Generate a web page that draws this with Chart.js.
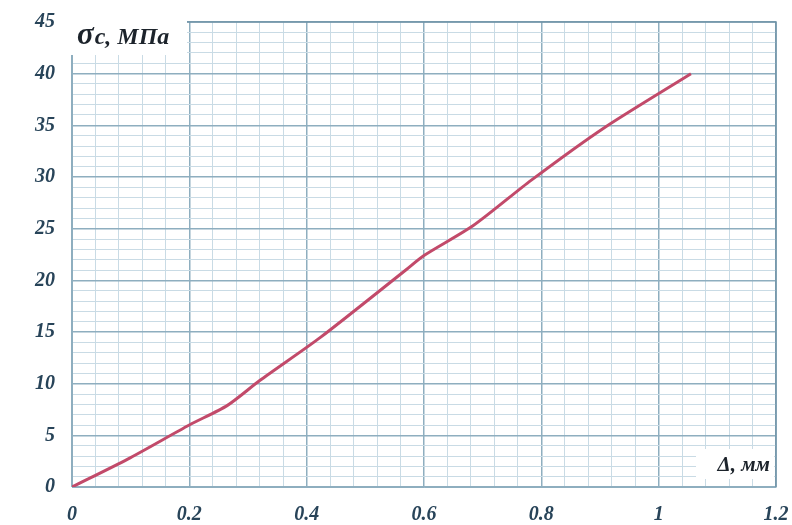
<!DOCTYPE html>
<html>
<head>
<meta charset="utf-8">
<script src="https://cdn.jsdelivr.net/npm/chart.js@4.4.1/dist/chart.umd.min.js"></script>
<style>
  html, body { margin: 0; padding: 0; background: #fff; }
  #wrap { width: 792px; height: 525px; }
</style>
</head>
<body>
<div id="wrap"><canvas id="stressChart"></canvas></div>
<script>
// deformation, mm
var deltaMm = [0, 0.095, 0.2, 0.265, 0.32, 0.424, 0.569, 0.6, 0.684, 0.783, 0.908, 1.055];
// stress, MPa
var sigmaMpa = [0, 2.7, 6.0, 7.9, 10.3, 14.5, 21.0, 22.4, 25.3, 29.7, 34.8, 40];
var xTicks = [0, 0.2, 0.4, 0.6, 0.8, 1, 1.2];
var yTicks = [0, 5, 10, 15, 20, 25, 30, 35, 40, 45];

var points = deltaMm.map(function (d, i) { return { x: d, y: sigmaMpa[i] }; });

var tickFont = { family: 'Liberation Serif', style: 'italic', weight: 'bold', size: 20 };
var tickColor = '#284459';
var majorGrid = '#8eaebf';
var minorGrid = '#c9dbe5';

function near(v, list) {
  for (var i = 0; i < list.length; i++) {
    if (Math.abs(v - list[i]) < 1e-6) return true;
  }
  return false;
}

var titles = {
  id: 'titles',
  afterDraw: function (chart) {
    var ctx = chart.ctx;
    var area = chart.chartArea;
    ctx.save();
    // y title box
    ctx.fillStyle = '#fff';
    ctx.fillRect(area.left - 1, 0, 116, 55);
    ctx.fillStyle = '#1c232b';
    ctx.textBaseline = 'alphabetic';
    ctx.textAlign = 'left';
    ctx.font = 'italic bold 31px "Liberation Serif"';
    ctx.fillText('σ', area.left + 5, 44);
    var w = ctx.measureText('σ').width;
    ctx.font = 'italic bold 24px "Liberation Serif"';
    ctx.fillText('c, МПа', area.left + 5 + w + 1, 44);
    // x title box
    ctx.fillStyle = '#fff';
    ctx.fillRect(area.right - 80, area.bottom - 38, 78, 30);
    ctx.fillStyle = '#1c232b';
    ctx.textAlign = 'right';
    ctx.font = 'italic bold 21px "Liberation Serif"';
    ctx.fillText('Δ, мм', area.right - 6, area.bottom - 16);
    // outer frame on top/right
    ctx.strokeStyle = '#6f93a6';
    ctx.lineWidth = 1.5;
    ctx.beginPath();
    ctx.moveTo(area.left + 115, area.top);
    ctx.lineTo(area.right, area.top);
    ctx.lineTo(area.right, area.bottom);
    ctx.stroke();
    ctx.restore();
  }
};

new Chart(document.getElementById('stressChart'), {
  type: 'scatter',
  data: {
    datasets: [{
      data: points,
      showLine: true,
      borderColor: '#c24a6a',
      borderWidth: 3,
      pointRadius: 0,
      tension: 0.25
    }]
  },
  options: {
    responsive: true,
    maintainAspectRatio: false,
    animation: false,
    layout: { padding: { left: 0, right: 16, top: 22, bottom: 0 } },
    plugins: { legend: { display: false }, tooltip: { enabled: false } },
    scales: {
      x: {
        type: 'linear',
        min: 0,
        max: 1.2,
        afterBuildTicks: function (axis) {
          var t = [];
          for (var i = 0; i <= 30; i++) t.push({ value: Math.round(i * 0.04 * 1000) / 1000 });
          axis.ticks = t;
        },
        afterFit: function (axis) {
          axis.height = 38;
          axis.paddingLeft = 0;
          axis.paddingRight = 0;
        },
        grid: {
          drawTicks: false,
          color: function (c) { return near(c.tick.value, xTicks) ? majorGrid : minorGrid; },
          lineWidth: function (c) { return near(c.tick.value, xTicks) ? 1.5 : 1; }
        },
        border: { color: majorGrid },
        ticks: {
          autoSkip: false,
          maxRotation: 0,
          padding: 16,
          color: tickColor,
          font: tickFont,
          callback: function (v) { return near(v, xTicks) ? String(Math.round(v * 10) / 10) : ''; }
        }
      },
      y: {
        type: 'linear',
        min: 0,
        max: 45,
        afterBuildTicks: function (axis) {
          var t = [];
          for (var i = 0; i <= 45; i++) t.push({ value: i });
          axis.ticks = t;
        },
        afterFit: function (axis) {
          axis.width = 72;
          axis.paddingTop = 0;
          axis.paddingBottom = 0;
        },
        grid: {
          drawTicks: false,
          color: function (c) { return near(c.tick.value, yTicks) ? majorGrid : minorGrid; },
          lineWidth: function (c) { return near(c.tick.value, yTicks) ? 1.5 : 1; }
        },
        border: { color: majorGrid },
        ticks: {
          autoSkip: false,
          padding: 17,
          color: tickColor,
          font: tickFont,
          callback: function (v) { return near(v, yTicks) ? String(v) : ''; }
        }
      }
    }
  },
  plugins: [titles]
});
</script>
</body>
</html>
